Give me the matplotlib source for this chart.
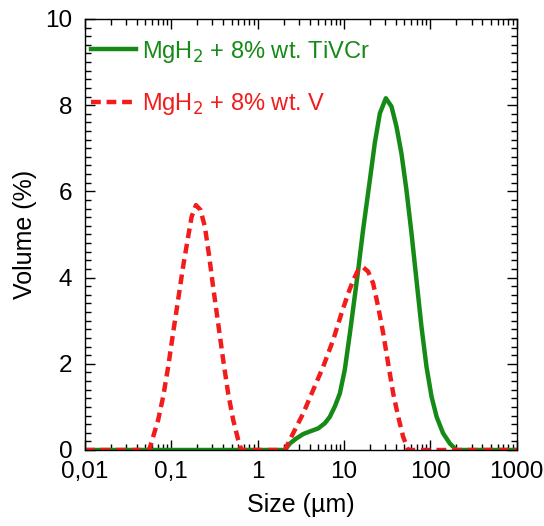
import numpy as np
import matplotlib
matplotlib.use("Agg")
import matplotlib.pyplot as plt
from matplotlib.ticker import MultipleLocator, LogLocator, FixedLocator, NullFormatter

plt.rcParams['font.family'] = ['Liberation Sans', 'DejaVu Sans']

# particle size (um) and volume (%)
size_tivcr = [0.01, 1.0, 2.07, 2.36, 2.82, 3.37, 4.02, 5.02, 6.0, 6.85, 7.83, 8.94, 10.2,
              11.7, 13.3, 14.6, 16.6, 19.9, 22.7, 26.0, 30.5, 35.4, 40.5, 46.2, 52.8,
              60.4, 69.0, 78.8, 90.1, 103, 118, 140, 168, 200, 1000]
vol_tivcr = [0, 0, 0, 0.15, 0.27, 0.37, 0.43, 0.50, 0.62, 0.77, 1.01, 1.31, 1.86,
             2.71, 3.56, 4.18, 5.10, 6.26, 7.12, 7.81, 8.16, 7.97, 7.50, 6.88, 6.03,
             5.03, 3.94, 2.86, 1.93, 1.24, 0.77, 0.39, 0.15, 0, 0]

size_v = [0.01, 0.0556, 0.0618, 0.0706, 0.0807, 0.0921, 0.105, 0.120, 0.137, 0.157,
          0.172, 0.193, 0.218, 0.245, 0.275, 0.305, 0.349, 0.399, 0.456, 0.521, 0.596,
          0.650, 1.0, 2.07, 2.58, 3.37, 4.39, 5.73, 7.48, 9.35, 11.2, 12.8, 14.6, 16.6,
          19.0, 21.7, 24.8, 28.4, 32.4, 37.1, 42.4, 48.3, 55.2, 1000]
vol_v = [0, 0, 0.31, 0.70, 1.24, 1.93, 2.71, 3.48, 4.25, 4.95,
         5.41, 5.68, 5.57, 5.18, 4.49, 3.79, 2.94, 2.09, 1.31, 0.70, 0.23,
         0, 0, 0, 0.39, 0.85, 1.39, 1.93, 2.55, 3.17, 3.64, 3.94, 4.18, 4.24,
         4.14, 3.87, 3.33, 2.71, 2.01, 1.31, 0.77, 0.31, 0, 0]

labels = ['MgH$_2$ + 8% wt. TiVCr', 'MgH$_2$ + 8% wt. V']
xticks = [0.01, 0.1, 1, 10, 100, 1000]
xticklabels = ['0,01', '0,1', '1', '10', '100', '1000']

fig = plt.figure(figsize=(5.44, 5.26), dpi=100)
ax = fig.add_axes([0.156, 0.1445, 0.794, 0.8195])

ax.plot(size_tivcr, vol_tivcr, color='#168a16', lw=3.2, solid_joinstyle='round',
        label=labels[0])
ax.plot(size_v, vol_v, color='#f21c1c', lw=3.2, ls=(0, (2.2, 1.3)), label=labels[1])

ax.set_xscale('log')
ax.set_xlim(0.01, 1000)
ax.set_ylim(0, 10)
ax.xaxis.set_major_locator(FixedLocator(xticks))
ax.set_xticklabels(xticklabels)
ax.xaxis.set_minor_locator(LogLocator(base=10, subs=np.arange(2, 10)))
ax.xaxis.set_minor_formatter(NullFormatter())
ax.yaxis.set_major_locator(MultipleLocator(2))
ax.yaxis.set_minor_locator(MultipleLocator(0.2))

ax.tick_params(which='both', direction='in', top=True, right=True, labelsize=17.5)
ax.tick_params(axis='x', pad=8)
ax.tick_params(axis='y', pad=9)
ax.tick_params(which='major', length=7, width=1)
ax.tick_params(which='minor', length=4, width=1)
for s in ax.spines.values():
    s.set_linewidth(1)

ax.set_xlabel('Size (µm)', fontsize=18, labelpad=7)
ax.set_ylabel('Volume (%)', fontsize=18, labelpad=6)

leg = ax.legend(loc='upper left', bbox_to_anchor=(-0.012, 0.982), frameon=False,
                fontsize=17, handlelength=1.9, handletextpad=0.25, labelspacing=1.12,
                borderaxespad=0.3, borderpad=0.2, labelcolor='linecolor')

fig.savefig('out.png', dpi=100)
